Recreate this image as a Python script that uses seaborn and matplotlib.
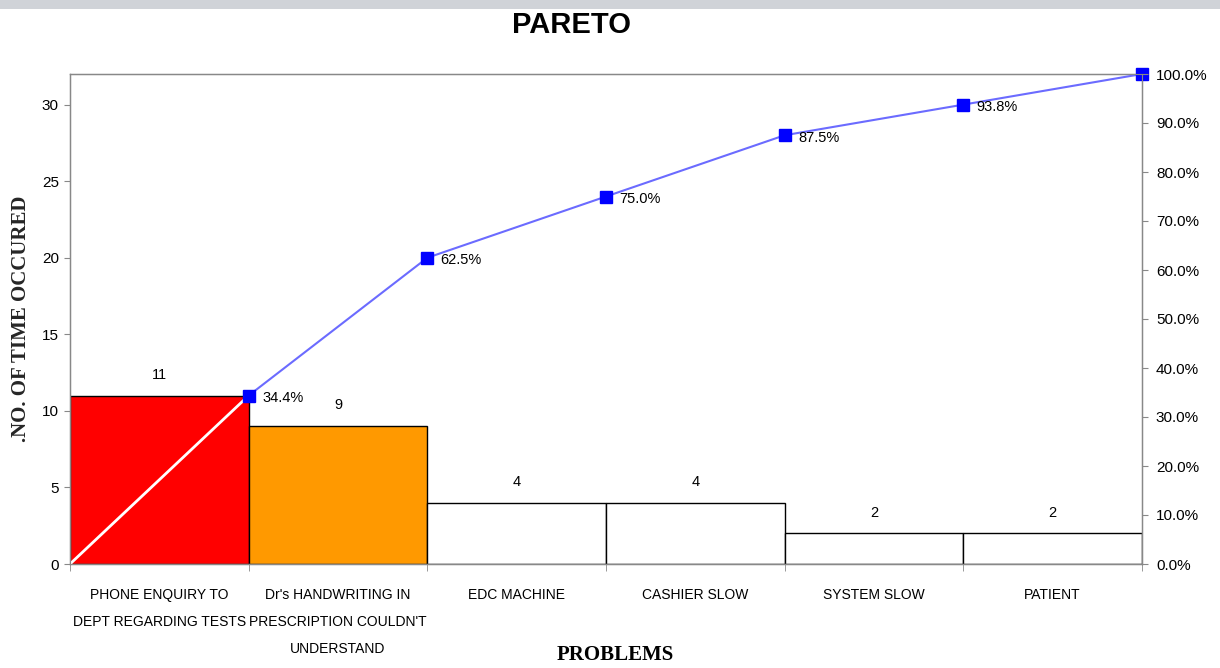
import matplotlib
matplotlib.use("Agg")
import matplotlib.pyplot as plt
import seaborn as sns
import numpy as np
from matplotlib.patches import Rectangle

problems = ["PHONE ENQUIRY TO\nDEPT REGARDING TESTS",
            "Dr's HANDWRITING IN\nPRESCRIPTION COULDN'T\nUNDERSTAND",
            "EDC MACHINE", "CASHIER SLOW", "SYSTEM SLOW", "PATIENT"]
counts = [11, 9, 4, 4, 2, 2]
bar_colors = ["#ff0000", "#ff9900", "#ffffff", "#ffffff", "#ffffff", "#ffffff"]
pct_ticks = [0, 10, 20, 30, 40, 50, 60, 70, 80, 90, 100]

sns.set_style("white")
plt.rcParams['font.family'] = ['Liberation Sans', 'DejaVu Sans']
plt.rcParams['text.color'] = 'black'
plt.rcParams['xtick.color'] = 'black'
plt.rcParams['ytick.color'] = 'black'

total = sum(counts)
cum = np.cumsum(counts)
cum_pct = cum / total * 100

fig = plt.figure(figsize=(12.2, 6.68), dpi=100)
ax = fig.add_axes([70 / 1220, 1 - 564 / 668, 1072 / 1220, 490 / 668])

sns.barplot(x=list(range(len(counts))), y=counts, hue=list(range(len(counts))),
            palette=bar_colors, saturation=1, width=1.0, edgecolor="black",
            linewidth=1.0, legend=False, ax=ax, zorder=2)

ax.set_xlim(-0.5, len(counts) - 0.5)
ax.set_ylim(0, total)
ax.set_yticks([0, 5, 10, 15, 20, 25, 30])
ax.tick_params(axis="y", labelsize=11, length=4, color="#888888", left=True,
               labelcolor="black", pad=4)

# category labels at centres, tick marks at bar borders
ax.set_xticks(range(len(counts)))
ax.set_xticklabels(problems, fontsize=10, linespacing=2.2)
ax.tick_params(axis="x", which="major", length=0, pad=17, labelcolor="black")
ax.set_xticks(np.arange(-0.5, len(counts)), minor=True)
ax.tick_params(axis="x", which="minor", length=5, color="#888888", bottom=True)

for s in ax.spines.values():
    s.set_color("#888888")
    s.set_linewidth(1.0)

# value labels on bars
for i, c in enumerate(counts):
    ax.text(i, c + 0.9, str(c), ha="center", va="bottom", fontsize=10.5)

# cumulative line: segment from origin in white, rest blue
xs = np.arange(len(counts)) + 0.5
ax.plot([-0.5, xs[0]], [0, cum[0]], color="white", lw=2, zorder=3)
ax.plot(xs, cum, color="#6b6bff", lw=1.5, zorder=4)
ax.plot(xs, cum, ls="none", marker="s", markersize=8, color="#0000ff", zorder=5,
        clip_on=False)
for x, y, p in zip(xs, cum, cum_pct):
    if p < 100:
        ax.text(x + 0.075, y - 0.15, f"{p:.1f}%", ha="left", va="center",
                fontsize=10.5, zorder=6)

ax2 = ax.twinx()
ax2.set_ylim(0, 100)
ax2.set_yticks(pct_ticks)
ax2.set_yticklabels([f"{t:.1f}%" for t in pct_ticks])
ax2.tick_params(axis="y", labelsize=11, length=4, color="#888888", right=True,
                labelcolor="black", pad=6)
for s in ax2.spines.values():
    s.set_color("#888888")

ax.set_ylabel(".NO. OF TIME OCCURED", family=["Liberation Serif"], fontweight="bold",
              fontsize=15, labelpad=8)
fig.text(615 / 1220, 1 - 655 / 668, "PROBLEMS", family=["Liberation Serif"],
         fontweight="bold", fontsize=15, ha="center", va="center")
fig.text(572 / 1220, 1 - 25 / 668, "PARETO", fontweight="bold", fontsize=21,
         ha="center", va="center")

fig.add_artist(Rectangle((0, 1 - 9 / 668), 1, 9 / 668, transform=fig.transFigure,
                         color="#d0d3d8", lw=0))

fig.savefig("out.png", dpi=100)
